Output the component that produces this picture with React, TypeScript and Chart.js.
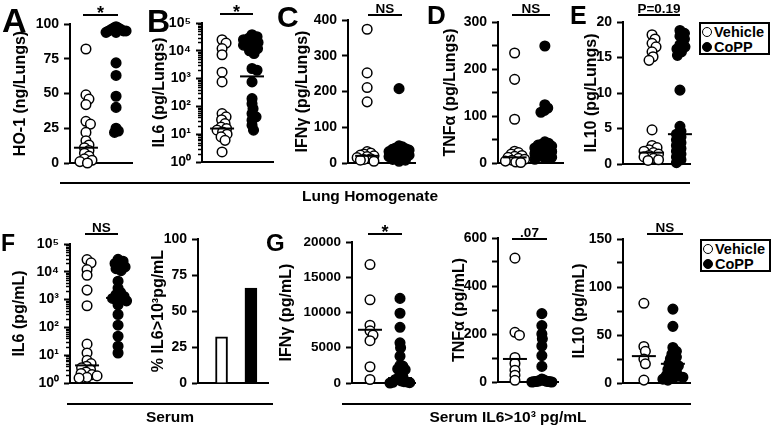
import React, { useEffect, useRef } from 'react';
import { Chart, registerables } from 'chart.js';
Chart.register(...registerables);

const FONT = "'Liberation Sans', Arial, Helvetica, sans-serif";

// ---------- DATA ----------
const groupNames = ['Vehicle', 'CoPP'];

// A: HO-1 (ng/Lungs)
const hoVehicle = [82, 49, 46, 42, 30, 28, 22, 16, 13, 11, 9, 7, 5, 3, 2, 1, 0];
const hoCopp = [98, 97, 97, 96, 96, 95, 95, 95, 94, 94, 72, 63, 48, 40, 25, 23, 22];
const hoMedians = [11, 95];

// B: IL6 (pg/Lungs), log
const il6LungVehicle = [25000, 19000, 12000, 7200, 1700, 760, 55, 42, 33, 24, 18, 16, 14, 12, 10, 8, 6, 2.3];
const il6LungCopp = [38000, 32000, 28000, 25000, 22000, 20000, 18000, 16000, 14000, 12000, 10000, 8000, 2300, 2000, 760, 190, 125, 83, 55, 42, 32, 21, 14];
const il6LungMedians = [16, 1200];

// C: IFNγ (pg/Lungs)
const ifnLungVehicle = [374, 252, 211, 171, 32, 28, 25, 22, 20, 18, 15, 12, 10, 8, 5];
const ifnLungCopp = [208, 48, 45, 42, 40, 38, 36, 34, 32, 30, 28, 26, 24, 22, 20, 18, 15, 12, 10, 8, 5];
const ifnLungMedians = [20, 31];

// D: TNFα (pg/Lungs)
const tnfLungVehicle = [234, 178, 93, 25, 22, 19, 16, 14, 12, 10, 8, 6, 4, 2, 1];
const tnfLungCopp = [249, 124, 117, 112, 108, 45, 42, 40, 38, 36, 34, 32, 30, 28, 26, 24, 22, 20, 18, 16, 14, 12, 10, 8];
const tnfLungMedians = [12, 27];

// E: IL10 (pg/Lungs)
const il10LungVehicle = [18.2, 17.6, 17.0, 16.5, 15.8, 15.1, 14.6, 4.8, 2.6, 2.3, 2.0, 1.8, 1.6, 1.4, 1.2, 1.0, 0.8, 0.6, 0.5];
const il10LungCopp = [18.8, 18.4, 18.0, 17.6, 16.8, 16.5, 16.2, 15.8, 15.3, 10.4, 5.3, 4.6, 4.2, 3.8, 3.4, 3.0, 2.6, 2.2, 1.8, 1.4, 1.0, 0.6, 0.2];
const il10LungMedians = [1.6, 4.2];

// F: IL6 (pg/mL) serum, log
const il6SerumVehicle = [27500, 21000, 12000, 7500, 2200, 600, 25, 12, 6.5, 5, 4, 3.5, 3, 2.5, 2.2, 2, 1.8, 1.6, 1.5];
const il6SerumCopp = [28000, 24000, 20000, 17000, 15000, 13000, 11000, 4600, 2600, 1800, 1500, 1300, 1100, 1000, 900, 650, 290, 120, 48, 21, 12];
const il6SerumMedians = [4.3, 1150];

// F (bars): % IL6 > 10^3 pg/mL
const pctIl6High = [32, 66];

// G: serum IL6>10^3 subgroup
const ifnSerumVehicle = [16800, 11800, 8200, 7400, 6800, 6000, 2300, 500];
const ifnSerumCopp = [12000, 9900, 7900, 5700, 5000, 3800, 2500, 2400, 2000, 1900, 1200, 900, 600, 500, 300, 200, 150, 100, 50, 0];
const ifnSerumMedians = [7550, 700];

const tnfSerumVehicle = [516, 207, 195, 102, 77, 49, 28, 7];
const tnfSerumCopp = [285, 235, 200, 180, 150, 110, 65, 12, 9, 7, 5, 4, 3, 3, 2, 2, 1, 1, 0, 0];
const tnfSerumMedians = [96, 5];

const il10SerumVehicle = [83, 38, 33, 25, 20, 3];
const il10SerumCopp = [77, 59, 37, 33, 30, 27, 25, 22, 20, 18, 16, 14, 12, 10, 8, 7, 6, 5, 4, 3];
const il10SerumMedians = [28, 20];

const SUP = ['⁰', '¹', '²', '³', '⁴', '⁵'];

// ---------- LAYOUT ----------
type Group = { values: number[]; median: number; filled: boolean };
type Panel = {
  id: string;
  left: number; top: number; height: number;
  area: { left: number; top: number; right: number; bottom: number };
  yTitle: string;
  yType: 'linear' | 'logarithmic';
  yMin: number; yMax: number; yStep?: number; labelEvery?: number;
  xMin: number; xMax: number;
  groups?: Group[];
  bars?: number[];
  sig?: { text: string; x1: number; x2: number; y: number };
  tickSize?: number;
};

const grp = (v: number[], c: number[], m: number[]): Group[] => [
  { values: v, median: m[0], filled: false },
  { values: c, median: m[1], filled: true },
];

const TOP_H = 190;
const BOT_TOP = 200;
const BOT_H = 210;

const PANELS: Panel[] = [
  { id: 'A', left: 11, top: 0, height: TOP_H, area: { left: 70, top: 24, right: 132, bottom: 163 },
    yTitle: 'HO-1 (ng/Lungs)', yType: 'linear', yMin: 0, yMax: 100, yStep: 25, xMin: 0.47, xMax: 2.53,
    groups: grp(hoVehicle, hoCopp, hoMedians), sig: { text: '*', x1: 83, x2: 118, y: 15 } },
  { id: 'B', left: 150, top: 0, height: TOP_H, area: { left: 202, top: 23, right: 273, bottom: 162 },
    yTitle: 'IL6 (pg/Lungs)', yType: 'logarithmic', yMin: 1, yMax: 100000, xMin: 0.33, xMax: 2.7,
    groups: grp(il6LungVehicle, il6LungCopp, il6LungMedians), sig: { text: '*', x1: 220, x2: 253, y: 14 } },
  { id: 'C', left: 293, top: 0, height: TOP_H, area: { left: 348, top: 20, right: 415, bottom: 163 },
    yTitle: 'IFNγ (pg/Lungs)', yType: 'linear', yMin: 0, yMax: 400, yStep: 100, xMin: 0.4, xMax: 2.5,
    groups: grp(ifnLungVehicle, ifnLungCopp, ifnLungMedians), sig: { text: 'NS', x1: 368, x2: 402, y: 15 } },
  { id: 'D', left: 441, top: 0, height: TOP_H, area: { left: 498, top: 22, right: 563, bottom: 163 },
    yTitle: 'TNFα (pg/Lungs)', yType: 'linear', yMin: 0, yMax: 300, yStep: 50, labelEvery: 100, xMin: 0.45, xMax: 2.6,
    groups: grp(tnfLungVehicle, tnfLungCopp, tnfLungMedians), sig: { text: 'NS', x1: 512, x2: 550, y: 15 } },
  { id: 'E', left: 582, top: 0, height: TOP_H, area: { left: 623, top: 22, right: 690, bottom: 164 },
    yTitle: 'IL10 (pg/Lungs)', yType: 'linear', yMin: 0, yMax: 20, yStep: 5, xMin: -0.04, xMax: 2.36,
    groups: grp(il10LungVehicle, il10LungCopp, il10LungMedians), sig: { text: 'P=0.19', x1: 638, x2: 680, y: 15 } },
  { id: 'F1', left: 10, top: BOT_TOP, height: BOT_H, area: { left: 70, top: 244, right: 132, bottom: 383 },
    yTitle: 'IL6 (pg/mL)', yType: 'logarithmic', yMin: 1, yMax: 100000, xMin: 0.45, xMax: 2.45,
    groups: grp(il6SerumVehicle, il6SerumCopp, il6SerumMedians), sig: { text: 'NS', x1: 85, x2: 118, y: 234 } },
  { id: 'F2', left: 149, top: BOT_TOP, height: BOT_H, area: { left: 198, top: 239, right: 268, bottom: 383 },
    yTitle: '% IL6>10³pg/mL', yType: 'linear', yMin: 0, yMax: 100, yStep: 25, xMin: 0.2, xMax: 2.58,
    bars: pctIl6High },
  { id: 'G1', left: 277, top: BOT_TOP, height: BOT_H, area: { left: 352, top: 242, right: 415, bottom: 383 },
    yTitle: 'IFNγ (pg/mL)', yType: 'linear', yMin: 0, yMax: 20000, yStep: 5000, xMin: 0.4, xMax: 2.5, tickSize: 13.5,
    groups: grp(ifnSerumVehicle, ifnSerumCopp, ifnSerumMedians), sig: { text: '*', x1: 368, x2: 402, y: 234 } },
  { id: 'G2', left: 450, top: BOT_TOP, height: BOT_H, area: { left: 498, top: 238, right: 558, bottom: 382 },
    yTitle: 'TNFα (pg/mL)', yType: 'linear', yMin: 0, yMax: 600, yStep: 100, labelEvery: 200, xMin: 0.37, xMax: 2.6,
    groups: grp(tnfSerumVehicle, tnfSerumCopp, tnfSerumMedians), sig: { text: '.07', x1: 512, x2: 547, y: 239 } },
  { id: 'G3', left: 570, top: BOT_TOP, height: BOT_H, area: { left: 623, top: 239, right: 690, bottom: 383 },
    yTitle: 'IL10 (pg/mL)', yType: 'linear', yMin: 0, yMax: 150, yStep: 25, labelEvery: 50, xMin: 0.28, xMax: 2.59,
    groups: grp(il10SerumVehicle, il10SerumCopp, il10SerumMedians), sig: { text: 'NS', x1: 647, x2: 683, y: 234 } },
];

// beeswarm placement (layout only: spreads points horizontally so they don't fully overlap)
function swarm(values: number[], yPix: (v: number) => number, pxPerUnit: number, center: number,
  minDist = 5, maxSpread = 10) {
  const order = values.map((_, i) => i).sort((a, b) => values[b] - values[a]);
  const placed: { px: number; py: number }[] = [];
  const offs: number[] = new Array(values.length).fill(0);
  for (const i of order) {
    const py = yPix(values[i]);
    let chosen = 0;
    outer: for (let k = 0; k < 400; k++) {
      const cands = k === 0 ? [0] : [k * 0.5, -k * 0.5];
      for (const dx of cands) {
        if (placed.every((p) => (p.px - dx) ** 2 + (p.py - py) ** 2 >= minDist * minDist)) {
          chosen = dx;
          break outer;
        }
      }
    }
    placed.push({ px: chosen, py });
    offs[i] = chosen;
  }
  const widest = Math.max(...offs.map((o) => Math.abs(o)), 0.0001);
  const f = widest > maxSpread ? maxSpread / widest : 1;
  return values.map((v, i) => ({ x: center + (offs[i] * f) / pxPerUnit, y: v }));
}

function panelWidth(p: Panel) {
  return p.area.right + 10 - p.left;
}

function makeChart(canvas: HTMLCanvasElement, p: Panel) {
  const W = p.area.right - p.area.left;
  const H = p.area.bottom - p.area.top;
  const pxPerUnit = W / (p.xMax - p.xMin);
  const isLog = p.yType === 'logarithmic';
  const lmin = Math.log10(p.yMin);
  const lmax = Math.log10(p.yMax);
  const yPix = (v: number) =>
    isLog ? ((Math.log10(v) - lmin) / (lmax - lmin)) * H : ((v - p.yMin) / (p.yMax - p.yMin)) * H;
  const tickFont = { family: FONT, size: p.tickSize ?? 14, weight: 'bold' as const };

  let type: any;
  let datasets: any[];
  if (p.bars) {
    type = 'bar';
    datasets = [{
      data: p.bars.map((v, i) => ({ x: i + 1, y: v })),
      backgroundColor: ['#ffffff', '#000000'],
      borderColor: '#000',
      borderWidth: 2,
      barThickness: 12,
    }];
  } else {
    type = 'scatter';
    datasets = (p.groups as Group[]).map((g, gi) => ({
      label: groupNames[gi],
      data: swarm(g.values, yPix, pxPerUnit, gi + 1),
      pointRadius: 4.8,
      pointHoverRadius: 4.8,
      pointBorderWidth: 1.5,
      pointBackgroundColor: g.filled ? '#000' : '#fff',
      pointBorderColor: '#000',
      showLine: false,
      clip: false,
    }));
  }

  const extras = {
    id: 'extras' + p.id,
    afterDatasetsDraw(chart: any) {
      const ctx = chart.ctx;
      const xs = chart.scales.x;
      const ys = chart.scales.y;
      const area = chart.chartArea;
      ctx.save();
      ctx.strokeStyle = '#000';
      ctx.fillStyle = '#000';
      if (isLog) {
        ctx.lineWidth = 1.5;
        for (let d = 0; d < 5; d++) {
          for (let k = 2; k <= 9; k++) {
            const y = Math.round(ys.getPixelForValue(k * Math.pow(10, d))) + 0.5;
            ctx.beginPath();
            ctx.moveTo(area.left - 4, y);
            ctx.lineTo(area.left, y);
            ctx.stroke();
          }
        }
      }
      if (p.groups) {
        ctx.lineWidth = 2;
        p.groups.forEach((g, gi) => {
          const cx = xs.getPixelForValue(gi + 1);
          const y = ys.getPixelForValue(g.median);
          ctx.beginPath();
          ctx.moveTo(cx - 12, y);
          ctx.lineTo(cx + 12, y);
          ctx.stroke();
        });
      }
      if (p.sig) {
        const x1 = p.sig.x1 - p.left;
        const x2 = p.sig.x2 - p.left;
        const y = p.sig.y - p.top;
        ctx.lineWidth = 2;
        ctx.beginPath();
        ctx.moveTo(x1, y);
        ctx.lineTo(x2, y);
        ctx.stroke();
        ctx.textAlign = 'center';
        ctx.textBaseline = 'alphabetic';
        if (p.sig.text === '*') {
          ctx.font = `bold 18px ${FONT}`;
          ctx.fillText('*', (x1 + x2) / 2, y + 4);
        } else {
          ctx.font = `bold 13.5px ${FONT}`;
          ctx.fillText(p.sig.text, (x1 + x2) / 2, y - 2);
        }
      }
      ctx.restore();
    },
  };

  const yTicks: any = {
    color: '#000',
    font: tickFont,
    padding: 5,
    autoSkip: false,
  };
  if (isLog) {
    yTicks.callback = (v: number) => '10' + SUP[Math.round(Math.log10(v))];
  } else {
    yTicks.stepSize = p.yStep;
    const every = p.labelEvery ?? p.yStep ?? 1;
    yTicks.callback = (v: number) => (Math.abs(v % every) < 1e-9 ? String(v) : '');
  }

  return new Chart(canvas, {
    type,
    data: { datasets },
    plugins: [extras],
    options: {
      animation: false,
      responsive: false,
      maintainAspectRatio: false,
      events: [],
      layout: {
        padding: {
          left: 0,
          top: p.area.top - p.top,
          right: p.left + panelWidth(p) - p.area.right,
          bottom: p.top + p.height - p.area.bottom,
        },
      },
      plugins: { legend: { display: false }, tooltip: { enabled: false } },
      scales: {
        x: {
          type: 'linear',
          min: p.xMin,
          max: p.xMax,
          offset: false,
          grid: { display: false, drawTicks: false },
          border: { display: true, color: '#000', width: 2 },
          ticks: { display: false },
          afterFit: (s: any) => { s.height = 0; },
        },
        y: {
          type: p.yType,
          min: p.yMin,
          max: p.yMax,
          afterFit: (s: any) => { s.width = p.area.left - p.left; },
          afterBuildTicks: isLog
            ? (s: any) => { s.ticks = [1, 10, 100, 1000, 10000, 100000].map((v) => ({ value: v })); }
            : undefined,
          border: { display: true, color: '#000', width: 2 },
          grid: { display: true, drawOnChartArea: false, drawTicks: true, tickLength: 6, tickWidth: 2, color: '#000' },
          ticks: yTicks,
          title: {
            display: true,
            text: p.yTitle,
            color: '#000',
            font: { family: FONT, size: 16, weight: 'bold' },
            padding: 0,
          },
        } as any,
      },
    } as any,
  });
}

// ---------- HTML text helpers ----------
function Txt(props: { x: number; y: number; size: number; text: string; align?: 'left' | 'center' }) {
  const { x, y, size, text, align = 'left' } = props;
  const top = y - 0.8465 * size;
  const style: React.CSSProperties = {
    position: 'absolute',
    top,
    fontSize: size,
    lineHeight: `${size}px`,
    fontWeight: 'bold',
    whiteSpace: 'nowrap',
    color: '#000',
  };
  if (align === 'center') {
    style.left = x - 200;
    style.width = 400;
    style.textAlign = 'center';
  } else {
    style.left = x;
  }
  return <div style={style}>{text}</div>;
}

function HLine(props: { x1: number; x2: number; y: number }) {
  return (
    <div style={{ position: 'absolute', left: props.x1, top: props.y - 1, width: props.x2 - props.x1, height: 2, background: '#000' }} />
  );
}

function Legend(props: { x: number; y: number }) {
  const { x, y } = props;
  const dot = (filled: boolean, cy: number) => (
    <div style={{
      position: 'absolute', left: 1, top: cy - 5, width: 10, height: 10, borderRadius: '50%',
      boxSizing: 'border-box', border: '1.5px solid #000', background: filled ? '#000' : '#fff',
    }} />
  );
  const label = (t: string, cy: number) => (
    <div style={{ position: 'absolute', left: 13, top: cy - 8, fontSize: 14.5, lineHeight: '16px', fontWeight: 'bold', whiteSpace: 'nowrap' }}>{t}</div>
  );
  return (
    <div style={{ position: 'absolute', left: x, top: y, width: 71, height: 33, border: '2px solid #000', boxSizing: 'border-box', background: '#fff' }}>
      {dot(false, 8)}
      {label(groupNames[0], 8)}
      {dot(true, 23)}
      {label(groupNames[1], 23)}
    </div>
  );
}

export default function App() {
  const refs = useRef<(HTMLCanvasElement | null)[]>([]);
  useEffect(() => {
    const charts = PANELS.map((p, i) => makeChart(refs.current[i] as HTMLCanvasElement, p));
    return () => charts.forEach((c) => c.destroy());
  }, []);

  return (
    <div style={{ position: 'fixed', left: 0, top: 0, width: 771, height: 428, background: '#fff', overflow: 'hidden', fontFamily: FONT }}>
      {PANELS.map((p, i) => (
        <canvas
          key={p.id}
          ref={(el) => { refs.current[i] = el; }}
          width={panelWidth(p)}
          height={p.height}
          style={{ position: 'absolute', left: p.left, top: p.top, width: panelWidth(p), height: p.height }}
        />
      ))}
      {/* panel letters */}
      <Txt x={2} y={32} size={34} text="A" />
      <Txt x={147} y={32} size={32} text="B" />
      <Txt x={277} y={27} size={30} text="C" />
      <Txt x={427} y={24} size={26} text="D" />
      <Txt x={570} y={24} size={25} text="E" />
      <Txt x={1} y={251} size={23} text="F" />
      <Txt x={266} y={251} size={24} text="G" />

      {/* group labels */}
      <HLine x1={60} x2={690} y={183} />
      <Txt x={370} y={201} size={15.5} text="Lung Homogenate" align="center" />
      <HLine x1={67} x2={273} y={404} />
      <Txt x={170} y={422} size={15.5} text="Serum" align="center" />
      <HLine x1={342} x2={691} y={404} />
      <Txt x={508} y={422} size={15.5} text="Serum IL6>10³ pg/mL" align="center" />

      <Legend x={699} y={22} />
      <Legend x={700} y={239} />
    </div>
  );
}
